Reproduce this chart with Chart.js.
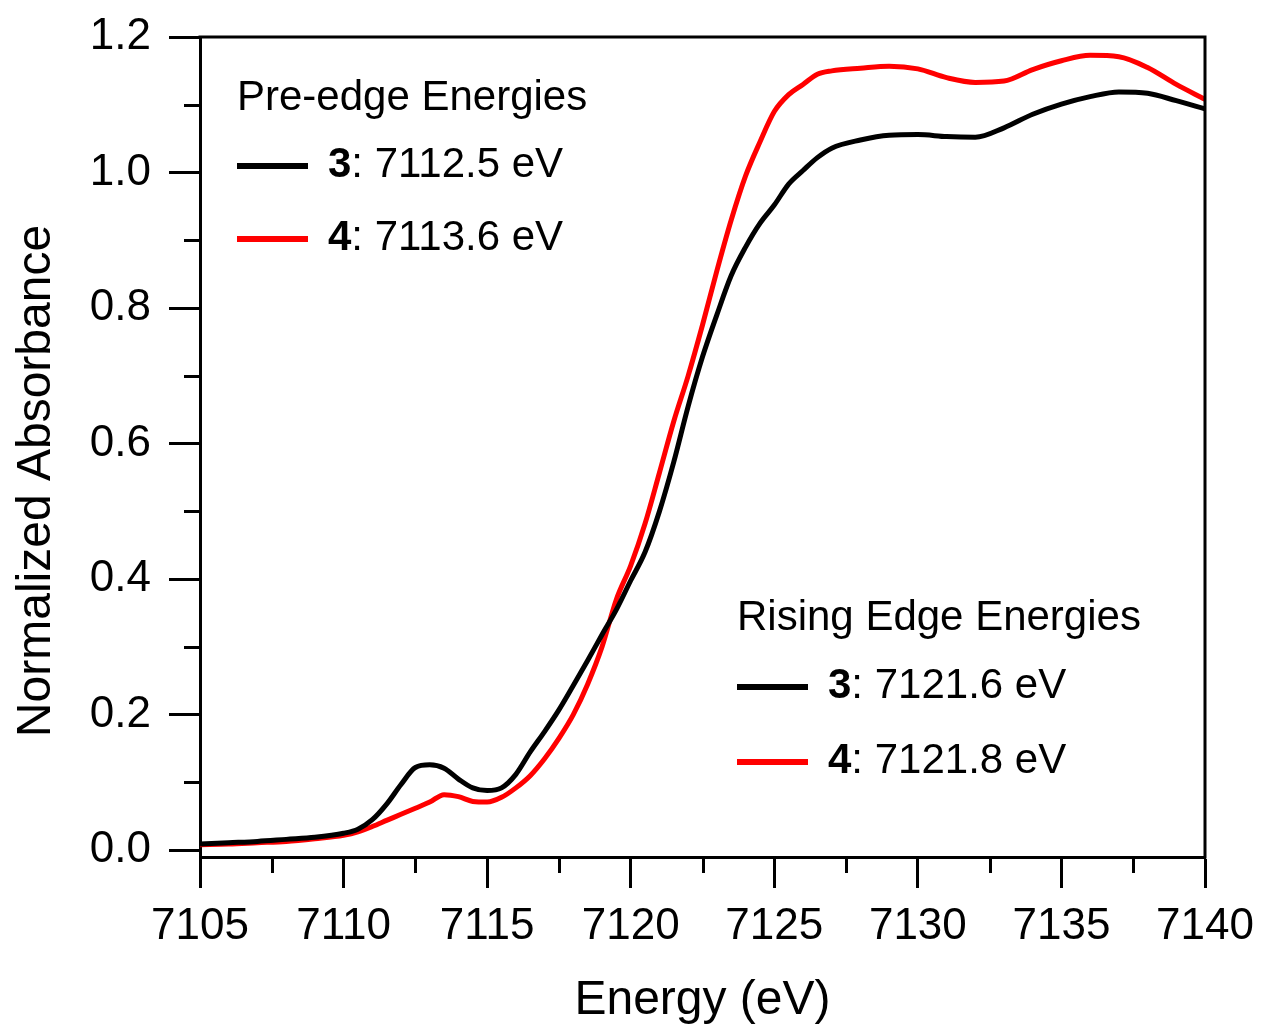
<!DOCTYPE html>
<html><head><meta charset="utf-8">
<script src="https://cdn.jsdelivr.net/npm/chart.js@4.4.0/dist/chart.umd.min.js"></script>
<style>html,body{margin:0;padding:0;background:#fff;}canvas{display:block}</style>
</head><body>
<canvas id="c" width="1265" height="1032"></canvas>
<script>
// ---- data ----
const energies = [7105,7106,7107,7108,7109,7110,7110.5,7111,7111.5,7112,7112.5,7113,7113.5,7114,7114.5,7115,7115.5,7116,7116.5,7117,7117.5,7118,7118.5,7119,7119.5,7120,7120.5,7121,7121.5,7122,7122.5,7123,7123.5,7124,7124.5,7125,7125.5,7126,7126.5,7127,7128,7129,7130,7131,7132,7133,7134,7135,7136,7137,7138,7139,7140];
const absorbance3 = [0.009,0.011,0.013,0.016,0.019,0.025,0.031,0.045,0.068,0.097,0.122,0.126,0.121,0.105,0.092,0.088,0.092,0.112,0.145,0.175,0.207,0.243,0.280,0.318,0.355,0.398,0.440,0.500,0.573,0.655,0.728,0.790,0.848,0.890,0.925,0.952,0.983,1.003,1.022,1.036,1.048,1.055,1.056,1.053,1.052,1.066,1.086,1.101,1.112,1.119,1.117,1.106,1.094];
const absorbance4 = [0.008,0.009,0.011,0.013,0.017,0.022,0.027,0.035,0.044,0.053,0.062,0.071,0.082,0.079,0.072,0.071,0.078,0.092,0.110,0.135,0.165,0.200,0.245,0.300,0.370,0.420,0.482,0.557,0.633,0.700,0.775,0.855,0.930,0.995,1.045,1.090,1.115,1.130,1.145,1.150,1.154,1.157,1.153,1.140,1.133,1.135,1.152,1.165,1.173,1.171,1.155,1.130,1.108];
const xTicks = [7105,7110,7115,7120,7125,7130,7135,7140];
const xMinorTicks = [7107.5,7112.5,7117.5,7122.5,7127.5,7132.5,7137.5];
const yTicks = [0,0.2,0.4,0.6,0.8,1.0,1.2];
const yMinorTicks = [0.1,0.3,0.5,0.7,0.9,1.1];
const seriesIds = ['3','4'];
const seriesColors = ['#000000','#ff0000'];
const preEdgeTitle = 'Pre-edge Energies';
const preEdgeValues = ['7112.5 eV','7113.6 eV'];
const risingTitle = 'Rising Edge Energies';
const risingValues = ['7121.6 eV','7121.8 eV'];
const xTitle = 'Energy (eV)';
const yTitle = 'Normalized Absorbance';

const FONT = "'Liberation Sans', Arial, Helvetica, sans-serif";
Chart.defaults.font.family = FONT;

function drawLegend(ctx, x, titleBase, rowBases, values) {
  ctx.save();
  ctx.fillStyle = '#000';
  ctx.textBaseline = 'alphabetic';
  ctx.textAlign = 'left';
  ctx.font = '42px ' + FONT;
  ctx.fillText(titleBase.text, x, titleBase.y);
  rowBases.forEach((by, i) => {
    ctx.strokeStyle = seriesColors[i];
    ctx.lineWidth = 6;
    ctx.beginPath();
    ctx.moveTo(x, by - 11);
    ctx.lineTo(x + 71, by - 11);
    ctx.stroke();
    ctx.font = 'bold 42px ' + FONT;
    ctx.fillText(seriesIds[i], x + 91, by);
    const w = ctx.measureText(seriesIds[i]).width;
    ctx.font = '42px ' + FONT;
    ctx.fillText(': ' + values[i], x + 91 + w, by);
  });
  ctx.restore();
}

const framePlugin = {
  id: 'frame',
  afterDatasetsDraw(chart) {
    const {ctx, chartArea: a, scales: {x, y}} = chart;
    ctx.save();
    ctx.strokeStyle = '#000';
    ctx.lineWidth = 3;
    ctx.lineCap = 'square';
    ctx.beginPath();
    ctx.moveTo(a.left, a.top); ctx.lineTo(a.right, a.top); ctx.lineTo(a.right, a.bottom);
    ctx.stroke();
    ctx.lineCap = 'butt';
    // minor ticks
    ctx.beginPath();
    yMinorTicks.forEach(v => { const py = Math.round(y.getPixelForValue(v)) + 0.5; ctx.moveTo(a.left, py); ctx.lineTo(a.left - 16, py); });
    xMinorTicks.forEach(v => { const px = Math.round(x.getPixelForValue(v)) + 0.5; ctx.moveTo(px, a.bottom); ctx.lineTo(px, a.bottom + 16); });
    ctx.stroke();
    // y title
    ctx.fillStyle = '#000';
    ctx.font = '48px ' + FONT;
    ctx.textAlign = 'center';
    ctx.textBaseline = 'alphabetic';
    ctx.translate(50, 481);
    ctx.rotate(-Math.PI / 2);
    ctx.fillText(yTitle, 0, 0);
    ctx.restore();
    drawLegend(ctx, 237, {text: preEdgeTitle, y: 110}, [177, 250], preEdgeValues);
    drawLegend(ctx, 737, {text: risingTitle, y: 630}, [698, 773], risingValues);
  }
};

new Chart(document.getElementById('c').getContext('2d'), {
  type: 'line',
  data: {
    datasets: [absorbance3, absorbance4].map((arr, i) => ({
      label: seriesIds[i],
      data: energies.map((e, j) => ({x: e, y: arr[j]})),
      borderColor: seriesColors[i],
      borderWidth: 5,
      pointRadius: 0,
      fill: false,
      cubicInterpolationMode: 'monotone'
    }))
  },
  options: {
    responsive: false,
    animation: false,
    events: [],
    layout: {padding: {top: 37, right: 60, left: 0, bottom: 0}},
    plugins: {legend: {display: false}, tooltip: {enabled: false}},
    scales: {
      x: {
        type: 'linear', min: 7105, max: 7140,
        afterBuildTicks: s => { s.ticks = xTicks.map(v => ({value: v})); },
        afterFit: s => { s.height = 175; s.paddingLeft = 0; s.paddingRight = 0; },
        border: {display: true, color: '#000', width: 3},
        grid: {drawOnChartArea: false, drawTicks: true, tickLength: 31, tickWidth: 3, tickColor: '#000'},
        ticks: {color: '#000', font: {size: 44}, padding: 12, maxRotation: 0, autoSkip: false, callback: v => String(v)},
        title: {display: true, text: xTitle, color: '#000', font: {size: 48}, padding: {top: 0, bottom: 2}}
      },
      y: {
        type: 'linear', min: -0.01, max: 1.2,
        afterBuildTicks: s => { s.ticks = yTicks.map(v => ({value: v})); },
        afterFit: s => { s.width = 200; s.paddingTop = 0; s.paddingBottom = 0; },
        border: {display: true, color: '#000', width: 3},
        grid: {drawOnChartArea: false, drawTicks: true, tickLength: 31, tickWidth: 3, tickColor: '#000'},
        ticks: {color: '#000', font: {size: 44}, padding: 18, autoSkip: false, callback: v => Number(v).toFixed(1)}
      }
    }
  },
  plugins: [framePlugin]
});
</script>
</body></html>
